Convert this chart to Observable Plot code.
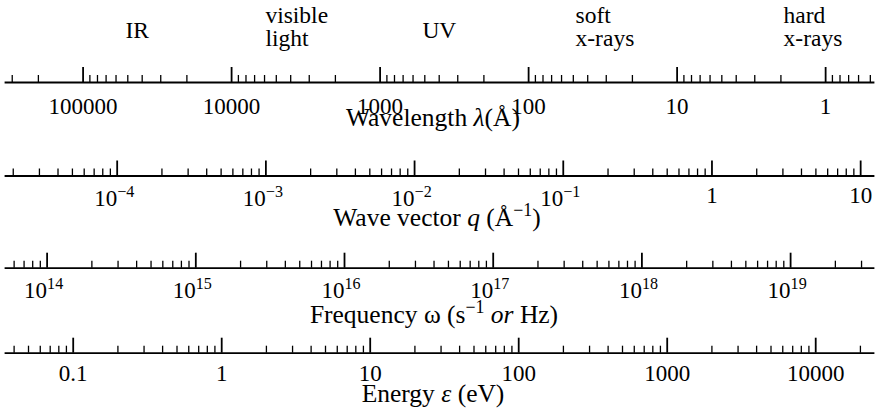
<!DOCTYPE html>
<html>
<head>
<meta charset="utf-8">
<script src="https://cdn.jsdelivr.net/npm/d3@7"></script>
<script src="https://cdn.jsdelivr.net/npm/@observablehq/plot@0.6"></script>
<style>
  body { margin: 0; background: #fff; }
  #chart { width: 883px; height: 409px; position: relative; overflow: hidden; background: #fff; }
  #chart svg { display: block; font-family: "Liberation Serif", serif; }
  #chart svg text { font-family: "Liberation Serif", serif; }
</style>
</head>
<body>
<div id="chart"></div>
<script>
// ---- Data ----
const regionNames = ["IR", "visible\nlight", "UV", "soft\nx-rays", "hard\nx-rays"];
const regionWavelengths = [51900, 5920, 519, 48.3, 1.92]; // Å, left edge of each label

const wavelengthDomain = [333000, 0.476];
const wavelengthTicks = [100000, 10000, 1000, 100, 10, 1];
const wavelengthLabels = ["100000", "10000", "1000", "100", "10", "1"];

const waveVectorDomain = [1.774e-5, 12.2];
const waveVectorTicks = [1e-4, 1e-3, 1e-2, 1e-1, 1, 10];
const waveVectorLabels = ["10^{−4}", "10^{−3}", "10^{−2}", "10^{−1}", "1", "10"];

const frequencyDomain = [5.25e13, 3.61e19];
const frequencyTicks = [1e14, 1e15, 1e16, 1e17, 1e18, 1e19];
const frequencyLabels = ["10^{14}", "10^{15}", "10^{16}", "10^{17}", "10^{18}", "10^{19}"];

const energyDomain = [0.035, 24500];
const energyTicks = [0.1, 1, 10, 100, 1000, 10000];
const energyLabels = ["0.1", "1", "10", "100", "1000", "10000"];

const axisTitles = ["Wavelength *λ*(Å)", "Wave vector *q* (Å^{−1})", "Frequency ω (s^{−1} *or* Hz)", "Energy *ε* (eV)"];

// ---- Layout ----
const W = 883, ML = 5, MR = 10;
const FS = 23, TFS = 25.5, MAJOR = 15, MINOR_INSET = 8;
const FONT = "Liberation Serif";

function minorTicks(domain, majors) {
  const [a, b] = d3.extent(domain);
  return d3.scaleLog().domain([a, b]).ticks()
    .filter(v => v >= a && v <= b && !majors.some(m => Math.abs(m - v) / m < 1e-6));
}

function axisPlot({domain, ticks, labels, title, top, height, line, labelDy, expLabelDy, titleDx, titleDy, extra = []}) {
  const minors = minorTicks(domain, ticks);
  const rows = labels.map((l, i) => ({v: ticks[i], l}));
  const plain = rows.filter(d => !d.l.includes("^"));
  const exp = rows.filter(d => d.l.includes("^"));
  return Plot.plot({
    width: W,
    height,
    marginLeft: ML,
    marginRight: MR,
    marginTop: line - top - MAJOR,
    marginBottom: top + height - line,
    x: {type: "log", domain, axis: null},
    style: `font-family: 'Liberation Serif', serif; font-size: ${FS}px; background: white; color: black; overflow: visible;`,
    marks: [
      Plot.frame({anchor: "bottom", strokeWidth: 1.8}),
      Plot.tickX(ticks, {x: d => d, strokeWidth: 1.8}),
      Plot.tickX(minors, {x: d => d, strokeWidth: 1.3, insetTop: MINOR_INSET}),
      Plot.text(plain, {x: "v", text: "l", frameAnchor: "bottom", lineAnchor: "bottom", dy: labelDy, fontSize: FS, fontFamily: FONT}),
      Plot.text(exp, {x: "v", text: "l", frameAnchor: "bottom", lineAnchor: "bottom", textAnchor: "start", dx: -FS, dy: expLabelDy, fontSize: FS, fontFamily: FONT}),
      Plot.text([title], {text: d => d, frameAnchor: "bottom", lineAnchor: "bottom", dx: titleDx, dy: titleDy, fontSize: TFS, fontFamily: FONT}),
      ...extra
    ]
  });
}

const regions = regionNames.map((n, i) => ({n, w: regionWavelengths[i]}));
const singles = regions.filter(d => !d.n.includes("\n"));
const doubles = regions.filter(d => d.n.includes("\n"));

const container = document.getElementById("chart");

const p1 = axisPlot({
  domain: wavelengthDomain, ticks: wavelengthTicks, labels: wavelengthLabels, title: axisTitles[0],
  top: 0, height: 135, line: 82, labelDy: 31, expLabelDy: 31, titleDx: -6.5, titleDy: 43,
  extra: [
    Plot.text(singles, {x: "w", text: "n", frameAnchor: "top", lineAnchor: "bottom", textAnchor: "start", dy: -30, fontSize: 23.5, fontFamily: FONT}),
    Plot.text(doubles, {x: "w", text: "n", frameAnchor: "top", lineAnchor: "bottom", textAnchor: "start", dy: -22, fontSize: 23.5, lineHeight: 0.94, fontFamily: FONT})
  ]
});
const p2 = axisPlot({
  domain: waveVectorDomain, ticks: waveVectorTicks, labels: waveVectorLabels, title: axisTitles[1],
  top: 135, height: 100, line: 175.5, labelDy: 26.5, expLabelDy: 29.5, titleDx: -2.5, titleDy: 49.5
});
const p3 = axisPlot({
  domain: frequencyDomain, ticks: frequencyTicks, labels: frequencyLabels, title: axisTitles[2],
  top: 235, height: 95, line: 267.7, labelDy: 29.3, expLabelDy: 29.3, titleDx: -5.5, titleDy: 54.3
});
const p4 = axisPlot({
  domain: energyDomain, ticks: energyTicks, labels: energyLabels, title: axisTitles[3],
  top: 330, height: 79, line: 352.7, labelDy: 27.3, expLabelDy: 27.3, titleDx: -6.5, titleDy: 48.3
});

for (const p of [p1, p2, p3, p4]) container.appendChild(p);

// Render simple markup: *italic* and ^{superscript}
function applyMarkup(root) {
  d3.select(root).selectAll("text").each(function () {
    const s = this.textContent;
    if (!/\*|\^\{/.test(s)) return;
    const fs = parseFloat(getComputedStyle(this).fontSize) || FS;
    const sup = fs * 0.7, raise = fs * 0.36;
    const parts = s.split(/(\*[^*]+\*|\^\{[^}]+\})/).filter(p => p !== "");
    this.textContent = "";
    this.style.whiteSpace = "pre";
    let shifted = false;
    for (const p of parts) {
      const t = d3.select(this).append("tspan");
      if (p.startsWith("^{")) {
        t.text(p.slice(2, -1)).attr("font-size", sup).attr("dy", -raise);
        shifted = true;
      } else {
        if (shifted) { t.attr("dy", raise); shifted = false; }
        if (p.startsWith("*")) t.text(p.slice(1, -1)).attr("font-style", "italic");
        else t.text(p);
      }
    }
  });
}
applyMarkup(container);
</script>
</body>
</html>
